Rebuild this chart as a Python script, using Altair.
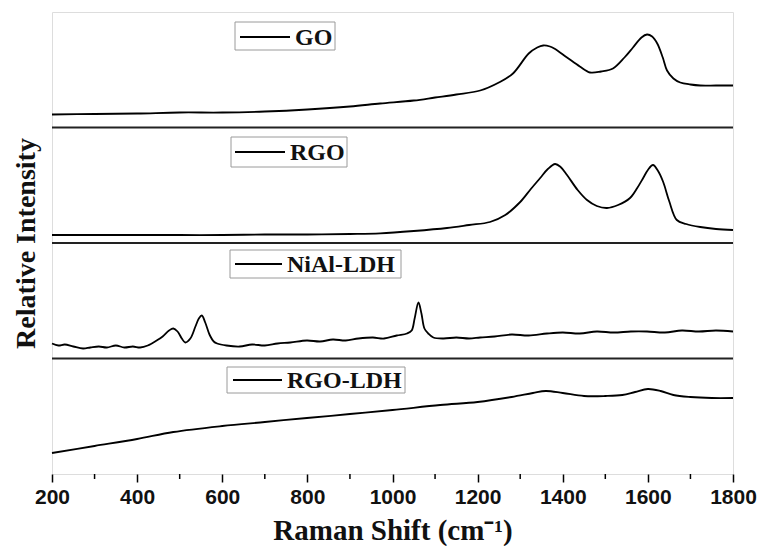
import altair as alt
import pandas as pd

# ---- data (Raman shift in cm-1, relative intensity) ----
go_x = [200, 300, 400, 500, 600, 700, 800, 900, 971, 1050, 1100, 1150, 1206, 1250, 1283, 1320, 1340,
        1354, 1370, 1380, 1410, 1440, 1464, 1490, 1518, 1545, 1565, 1585, 1598, 1610, 1622, 1635,
        1645, 1660, 1676, 1700, 1723, 1760, 1800]
go_y = [13, 13.5, 14, 15, 15, 16, 18, 21, 24, 27, 30, 33, 37, 45, 54, 74, 80,
        82, 81, 79, 70, 61, 55, 56, 59, 70, 80, 90, 93, 91, 84, 70,
        57, 49, 45, 43, 42, 42, 42]

rgo_x = [200, 300, 400, 500, 600, 700, 800, 900, 971, 1050, 1128, 1180, 1229, 1265, 1300, 1325, 1347,
         1365, 1382, 1395, 1410, 1435, 1457, 1480, 1504, 1530, 1558, 1575, 1589, 1600, 1612, 1624,
         1636, 1650, 1668, 1690, 1723, 1760, 1800]
rgo_y = [8, 8, 8, 8, 8, 8.5, 8.5, 9, 9.7, 12, 15, 18, 21, 28, 41, 54, 65,
         74, 79, 76, 68, 53, 43, 37, 35, 38, 45, 55, 65, 73, 78, 72,
         61, 42, 23, 19, 16, 14, 13]

ldh_x = [200, 215, 230, 250, 273, 290, 310, 329, 350, 370, 390, 407, 425, 446, 460, 475, 485, 495,
         505, 513, 525, 537, 545, 552, 560, 570, 580, 588, 610, 641, 670, 700, 730, 760, 799, 830,
         860, 890, 920, 954, 980, 1010, 1034, 1045, 1052, 1061, 1068, 1075, 1084, 1096, 1120, 1150,
         1180, 1206, 1240, 1280, 1320, 1363, 1400, 1440, 1480, 1520, 1560, 1598, 1640, 1680, 1720,
         1760, 1800]
ldh_y = [15, 13, 14, 12, 10, 11, 12, 11, 13, 11, 12, 11, 13, 18, 22, 28, 30, 27,
         20, 16, 20, 32, 40, 43, 36, 24, 17, 15, 13, 12, 14, 13, 15, 16, 18, 17,
         19, 18, 20, 21, 20, 23, 25, 28, 40, 56, 45, 30, 25, 21, 20, 21,
         20, 21, 22, 24, 23, 25, 26, 25, 27, 26, 27, 27, 26, 28, 27,
         28, 27]

rgoldh_x = [200, 300, 400, 485, 600, 700, 799, 900, 1000, 1112, 1200, 1280, 1330, 1360, 1400, 1450,
            1500, 1540, 1570, 1600, 1630, 1660, 1700, 1750, 1800]
rgoldh_y = [21, 28, 35, 42, 48, 52, 56, 60, 64, 69, 72, 77, 81, 83, 81, 78,
            78, 79, 82, 85, 83, 79, 77, 76, 76]

series_names = ["GO", "RGO", "NiAl-LDH", "RGO-LDH"]
major_ticks = [200, 400, 600, 800, 1000, 1200, 1400, 1600, 1800]
minor_ticks = [300, 500, 700, 900, 1100, 1300, 1500, 1700]

PANEL = 115.5  # vertical stacking step of the four spectra
stack = {"RGO-LDH": 0, "NiAl-LDH": 1, "RGO": 2, "GO": 3}

frames = []
for name, xs, ys in [("GO", go_x, go_y), ("RGO", rgo_x, rgo_y),
                     ("NiAl-LDH", ldh_x, ldh_y), ("RGO-LDH", rgoldh_x, rgoldh_y)]:
    frames.append(pd.DataFrame({"shift": xs,
                                "intensity": [v + stack[name] * PANEL for v in ys],
                                "series": name}))
df = pd.concat(frames, ignore_index=True)

W, H = 681, 462
xscale = alt.Scale(domain=[200, 1800], nice=False, zero=False)
yscale = alt.Scale(domain=[0, 4 * PANEL], nice=False, zero=False)

lines = alt.Chart(df).mark_line(color="black", strokeWidth=1.8, interpolate="catmull-rom").encode(
    x=alt.X("shift:Q", scale=xscale,
            axis=alt.Axis(values=major_ticks, format="d", title="Raman Shift (cm⁻¹)", grid=False,
                          domain=False, tickSize=8, tickWidth=1.5, tickColor="black",
                          labelFlush=False,
                          labelFont="Liberation Sans", labelFontSize=21, labelFontWeight="bold",
                          labelColor="#111", labelPadding=4,
                          titleFont="Liberation Serif", titleFontSize=29, titleFontWeight="bold",
                          titleColor="#111", titlePadding=9)),
    y=alt.Y("intensity:Q", scale=yscale,
            axis=alt.Axis(labels=False, ticks=False, domain=False, grid=False,
                          title="Relative Intensity", titleFont="Liberation Serif",
                          titleFontSize=28, titleFontWeight="bold", titleColor="#111",
                          titlePadding=12)),
    detail="series:N",
)

sep = alt.Chart(pd.DataFrame({"b": [PANEL, 2 * PANEL, 3 * PANEL]})).mark_rule(
    color="#222", strokeWidth=2).encode(y=alt.Y("b:Q", scale=yscale))

minor = alt.Chart(pd.DataFrame({"m": minor_ticks})).mark_rule(
    color="black", strokeWidth=1.5).encode(
    x=alt.X("m:Q", scale=xscale), y=alt.value(H), y2=alt.value(H + 5))

# legend boxes (one per panel)
boxes = [  # name, box x0, x1, y0, y1, line x0, x1, line y
    ("GO", 183, 283, 10, 38, 188, 238, 25),
    ("RGO", 179, 295, 125, 155, 183, 233, 140),
    ("NiAl-LDH", 178, 349, 238, 266, 183, 230, 252),
    ("RGO-LDH", 175, 353, 355, 381, 181, 230, 368),
]
one = pd.DataFrame({"a": [0]})
legend_layers = []
for name, bx0, bx1, by0, by1, lx0, lx1, ly in boxes:
    legend_layers.append(alt.Chart(one).mark_rect(fill="white", stroke="#9a9a9a", strokeWidth=1).encode(
        x=alt.value(bx0), x2=alt.value(bx1), y=alt.value(by0), y2=alt.value(by1)))
    legend_layers.append(alt.Chart(one).mark_rule(color="black", strokeWidth=2).encode(
        x=alt.value(lx0), x2=alt.value(lx1), y=alt.value(ly)))
    legend_layers.append(alt.Chart(pd.DataFrame({"t": [name]})).mark_text(
        font="Liberation Serif", fontSize=24, fontWeight="bold", color="#111",
        align="left", baseline="middle").encode(
        x=alt.value(lx1 + 5), y=alt.value(ly + 1), text="t:N"))

chart = alt.layer(lines, sep, minor, *legend_layers).properties(
    width=W, height=H,
    autosize=alt.AutoSizeParams(type="none"),
    padding={"left": 44, "top": 4, "right": 24, "bottom": 72},
).configure_view(stroke="#222", strokeWidth=2).configure(background="white")

chart.save("out.html", embed_options={"renderer": "svg", "actions": False})
